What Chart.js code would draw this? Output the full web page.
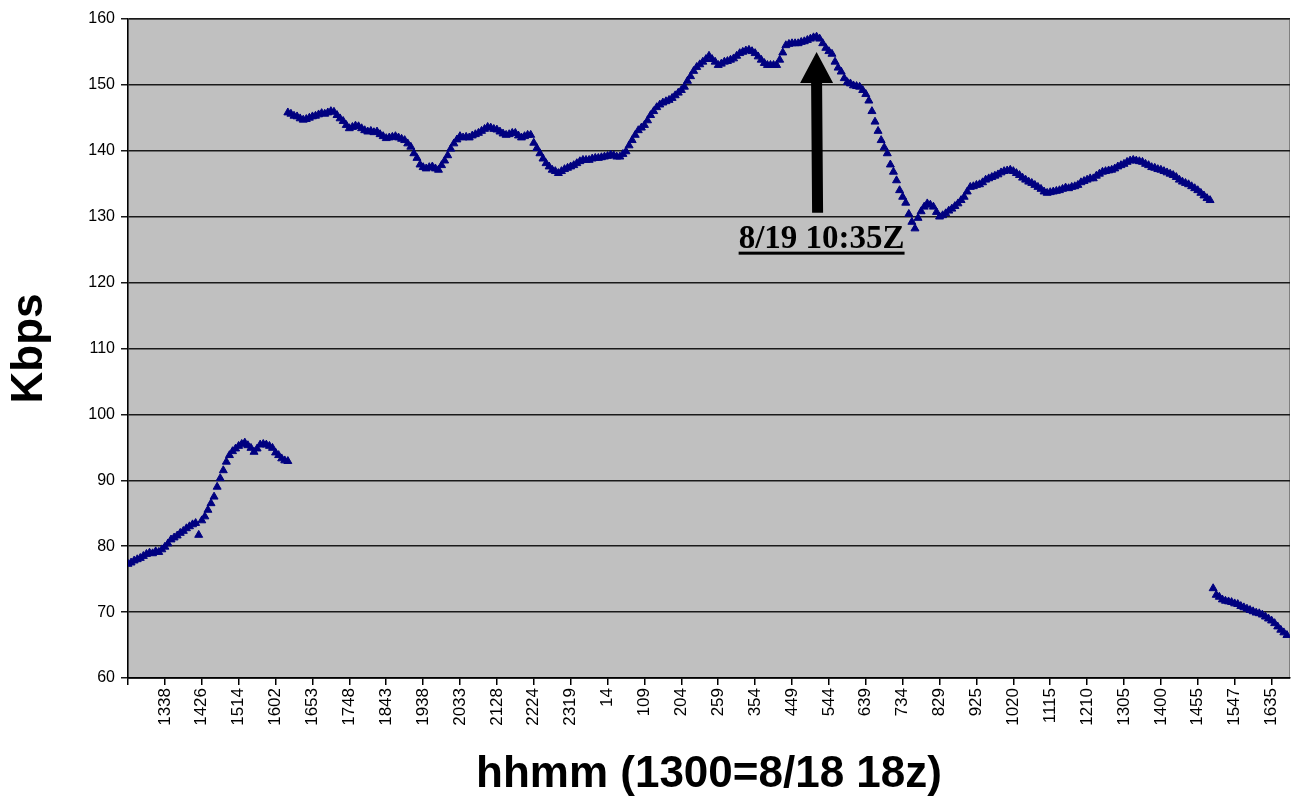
<!DOCTYPE html>
<html>
<head>
<meta charset="utf-8">
<script src="https://cdn.jsdelivr.net/npm/chart.js@4.4.0/dist/chart.umd.min.js"></script>
<style>
  html, body { margin: 0; padding: 0; background: #fff; }
  #kbpsChart { display: block; }
</style>
</head>
<body>
<canvas id="kbpsChart" width="1299" height="802"></canvas>
<script>
// category labels, one every 12 samples (index 0 has no label)
const tickEvery = 12;
const xLabels = ['', '1338', '1426', '1514', '1602', '1653', '1748', '1843', '1938', '2033', '2128',
  '2224', '2319', '14', '109', '204', '259', '354', '449', '544', '639', '734', '829', '925',
  '1020', '1115', '1210', '1305', '1400', '1455', '1547', '1635'];
const lastIndex = 378;

// first stretch (samples 0..52)
const earlyStart = 0;
const earlyKbps = [
  77.3, 77.5, 77.8, 78.0, 78.2, 78.5, 78.8, 79.0, 78.9, 79.2,
  79.1, 79.5, 79.9, 80.4, 81.0, 81.3, 81.6, 82.0, 82.3, 82.7,
  83.0, 83.3, 83.5, 81.7, 83.9, 84.5, 85.5, 86.5, 87.5, 89.0,
  90.3, 91.5, 92.8, 93.8, 94.4, 94.8, 95.2, 95.5, 95.7, 95.3,
  94.9, 94.3, 94.8, 95.4, 95.5, 95.4, 95.2, 94.9, 94.2, 93.8,
  93.3, 93.0, 92.9
];

// main stretch (samples 52..352)
const mainStart = 52;
const mainKbps = [
  145.8, 145.6, 145.3, 145.2, 144.9, 144.7, 144.8, 145.0,
  145.2, 145.3, 145.5, 145.7, 145.6, 145.8, 146.0, 145.9, 145.4, 144.9,
  144.5, 143.9, 143.4, 143.6, 143.8, 143.7, 143.4, 143.1, 142.9, 143.0,
  142.8, 142.9, 142.5, 142.2, 141.9, 142.0, 142.1, 142.2, 142.0, 141.8,
  141.6, 141.1, 140.6, 139.6, 138.9, 137.9, 137.5, 137.3, 137.5, 137.6,
  137.3, 137.1, 137.8, 138.5, 139.3, 140.3, 141.1, 141.7, 142.2, 142.0,
  142.1, 142.0, 142.3, 142.5, 142.7, 143.0, 143.3, 143.6, 143.5, 143.3,
  143.2, 142.9, 142.6, 142.4, 142.5, 142.7, 142.7, 142.3, 142.0, 142.2,
  142.4, 142.4, 141.2, 140.4, 139.6, 138.8, 138.1, 137.6, 137.1, 136.9,
  136.6, 136.9, 137.2, 137.4, 137.6, 137.8, 138.1, 138.4, 138.6, 138.6,
  138.6, 138.8, 138.9, 138.9, 139.0, 139.1, 139.2, 139.4, 139.3, 139.1,
  139.1, 139.5, 139.9, 140.8, 141.6, 142.4, 143.1, 143.5, 143.9, 144.6,
  145.4, 146.0, 146.6, 147.0, 147.3, 147.5, 147.7, 148.0, 148.4, 148.8,
  149.2, 149.7, 150.6, 151.3, 152.1, 152.7, 153.1, 153.5, 153.9, 154.4,
  153.9, 153.5, 153.0, 153.2, 153.5, 153.6, 153.8, 154.0, 154.4, 154.8,
  155.0, 155.2, 155.3, 155.1, 154.8, 154.3, 153.8, 153.3, 153.0, 153.0,
  153.0, 153.0, 153.8, 154.9, 156.0, 156.2, 156.3, 156.3, 156.3, 156.5,
  156.6, 156.8, 157.0, 157.2, 157.3, 157.0, 156.3, 155.6, 155.1, 154.7,
  153.5, 152.6, 152.0, 151.0, 150.4, 150.2, 149.9, 149.8, 149.7, 149.2,
  148.6, 147.6, 146.0, 144.4, 143.0, 141.6, 140.5, 139.6, 137.9, 136.8,
  135.5, 134.0, 133.0, 132.1, 130.4, 129.2, 128.2, 129.8, 130.8, 131.5,
  132.0, 131.8, 131.5, 130.7, 130.0, 130.2, 130.5, 130.9, 131.2, 131.6,
  132.0, 132.5, 133.0, 133.8, 134.5, 134.6, 134.8, 134.9, 135.2, 135.6,
  135.8, 136.0, 136.2, 136.4, 136.7, 136.9, 137.0, 137.1, 136.9, 136.6,
  136.3, 135.9, 135.6, 135.3, 135.1, 134.8, 134.5, 134.2, 133.8, 133.6,
  133.7, 133.8, 133.9, 134.0, 134.2, 134.4, 134.3, 134.5, 134.6, 134.8,
  135.2, 135.4, 135.6, 135.8, 135.8, 136.2, 136.5, 136.8, 136.9, 137.0,
  137.1, 137.3, 137.6, 137.8, 138.0, 138.3, 138.5, 138.6, 138.5, 138.4,
  138.3, 138.0, 137.8, 137.5, 137.4, 137.2, 137.1, 136.9, 136.7, 136.5,
  136.3, 136.0, 135.6, 135.3, 135.1, 134.9, 134.6, 134.3, 134.0, 133.6,
  133.2, 132.8, 132.5
];

// last stretch (samples 353..377)
const lateStart = 353;
const lateKbps = [
  73.6, 72.6, 72.3, 71.9, 71.7, 71.6, 71.5, 71.3, 71.2, 70.9,
  70.7, 70.5, 70.3, 70.1, 69.9, 69.8, 69.6, 69.3, 69.0, 68.7,
  68.3, 67.8, 67.3, 66.9, 66.5
];

// note on the chart
const noteText = '8/19 10:35Z';
const noteIndex = 224;
const noteArrowTop = 155.0;
const noteArrowBottom = 130.6;
const noteTextValue = 125.3;

function toPoints(start, values) {
  return values.map((v, i) => ({ x: start + i, y: v }));
}

const points = [].concat(
  toPoints(earlyStart, earlyKbps),
  toPoints(mainStart, mainKbps),
  toPoints(lateStart, lateKbps)
);

// gray plot background
const plotBackground = {
  id: 'plotBackground',
  beforeDraw(chart) {
    const { ctx, chartArea: a } = chart;
    ctx.save();
    ctx.fillStyle = '#C0C0C0';
    ctx.fillRect(a.left, a.top, a.right - a.left, a.bottom - a.top);
    ctx.strokeStyle = '#808080';
    ctx.lineWidth = 1;
    ctx.strokeRect(a.left, a.top + 0.5, a.right - a.left - 0.5, a.bottom - a.top);
    ctx.restore();
  }
};

// arrow + underlined label
const noteArrow = {
  id: 'noteArrow',
  afterDatasetsDraw(chart) {
    const { ctx, scales } = chart;
    const x = scales.x.getPixelForValue(noteIndex);
    const yTop = scales.y.getPixelForValue(noteArrowTop);
    const yBottom = scales.y.getPixelForValue(noteArrowBottom);
    const headH = 31, headW = 33, shaftW = 11;
    ctx.save();
    ctx.fillStyle = '#000';
    ctx.beginPath();
    ctx.moveTo(x, yTop);
    ctx.lineTo(x + headW / 2, yTop + headH);
    ctx.lineTo(x + shaftW / 2, yTop + headH);
    ctx.lineTo(x + shaftW / 2 + 1, yBottom);
    ctx.lineTo(x - shaftW / 2 + 1, yBottom);
    ctx.lineTo(x - shaftW / 2, yTop + headH);
    ctx.lineTo(x - headW / 2, yTop + headH);
    ctx.closePath();
    ctx.fill();

    ctx.font = 'bold 33px "Liberation Serif", "Times New Roman", serif';
    ctx.textAlign = 'center';
    ctx.textBaseline = 'alphabetic';
    const ty = scales.y.getPixelForValue(noteTextValue);
    const tx = x + 5;
    ctx.fillText(noteText, tx, ty);
    const w = ctx.measureText(noteText).width;
    ctx.fillRect(tx - w / 2, ty + 4, w, 3);
    ctx.restore();
  }
};

const ctx = document.getElementById('kbpsChart').getContext('2d');
new Chart(ctx, {
  type: 'scatter',
  data: {
    datasets: [{
      data: points,
      pointStyle: 'triangle',
      pointRadius: 4.6,
      pointBorderWidth: 1,
      backgroundColor: '#000080',
      borderColor: '#000080',
      showLine: false
    }]
  },
  options: {
    responsive: false,
    animation: false,
    layout: { padding: { top: 19, right: 9, left: 0, bottom: 0 } },
    plugins: {
      legend: { display: false },
      tooltip: { enabled: false }
    },
    scales: {
      x: {
        type: 'linear',
        min: 0,
        max: lastIndex,
        afterFit(scale) { scale.height = 124; },
        ticks: {
          stepSize: tickEvery,
          autoSkip: false,
          includeBounds: false,
          minRotation: 90,
          maxRotation: 90,
          padding: 3,
          color: '#000',
          font: { family: '"Liberation Sans", Arial, sans-serif', size: 17 },
          callback: (v) => xLabels[v / tickEvery] ?? ''
        },
        grid: { drawOnChartArea: false, tickLength: 7, color: '#000', lineWidth: 1.5 },
        border: { color: '#000', width: 1.5 },
        title: {
          display: true,
          text: 'hhmm (1300=8/18 18z)',
          color: '#000',
          padding: { top: 0, bottom: 1 },
          font: { family: '"Liberation Sans", Arial, sans-serif', size: 44, weight: 'bold' }
        }
      },
      y: {
        min: 60,
        max: 160,
        afterFit(scale) { scale.width = 128; },
        ticks: {
          stepSize: 10,
          padding: 6,
          color: '#000',
          font: { family: '"Liberation Sans", Arial, sans-serif', size: 16 }
        },
        grid: { color: '#1a1a1a', lineWidth: 1.5, tickLength: 7 },
        border: { color: '#000', width: 1.5 },
        title: {
          display: true,
          text: 'Kbps',
          color: '#000',
          padding: { top: 3, bottom: 0 },
          font: { family: '"Liberation Sans", Arial, sans-serif', size: 44, weight: 'bold' }
        }
      }
    }
  },
  plugins: [plotBackground, noteArrow]
});
</script>
</body>
</html>
